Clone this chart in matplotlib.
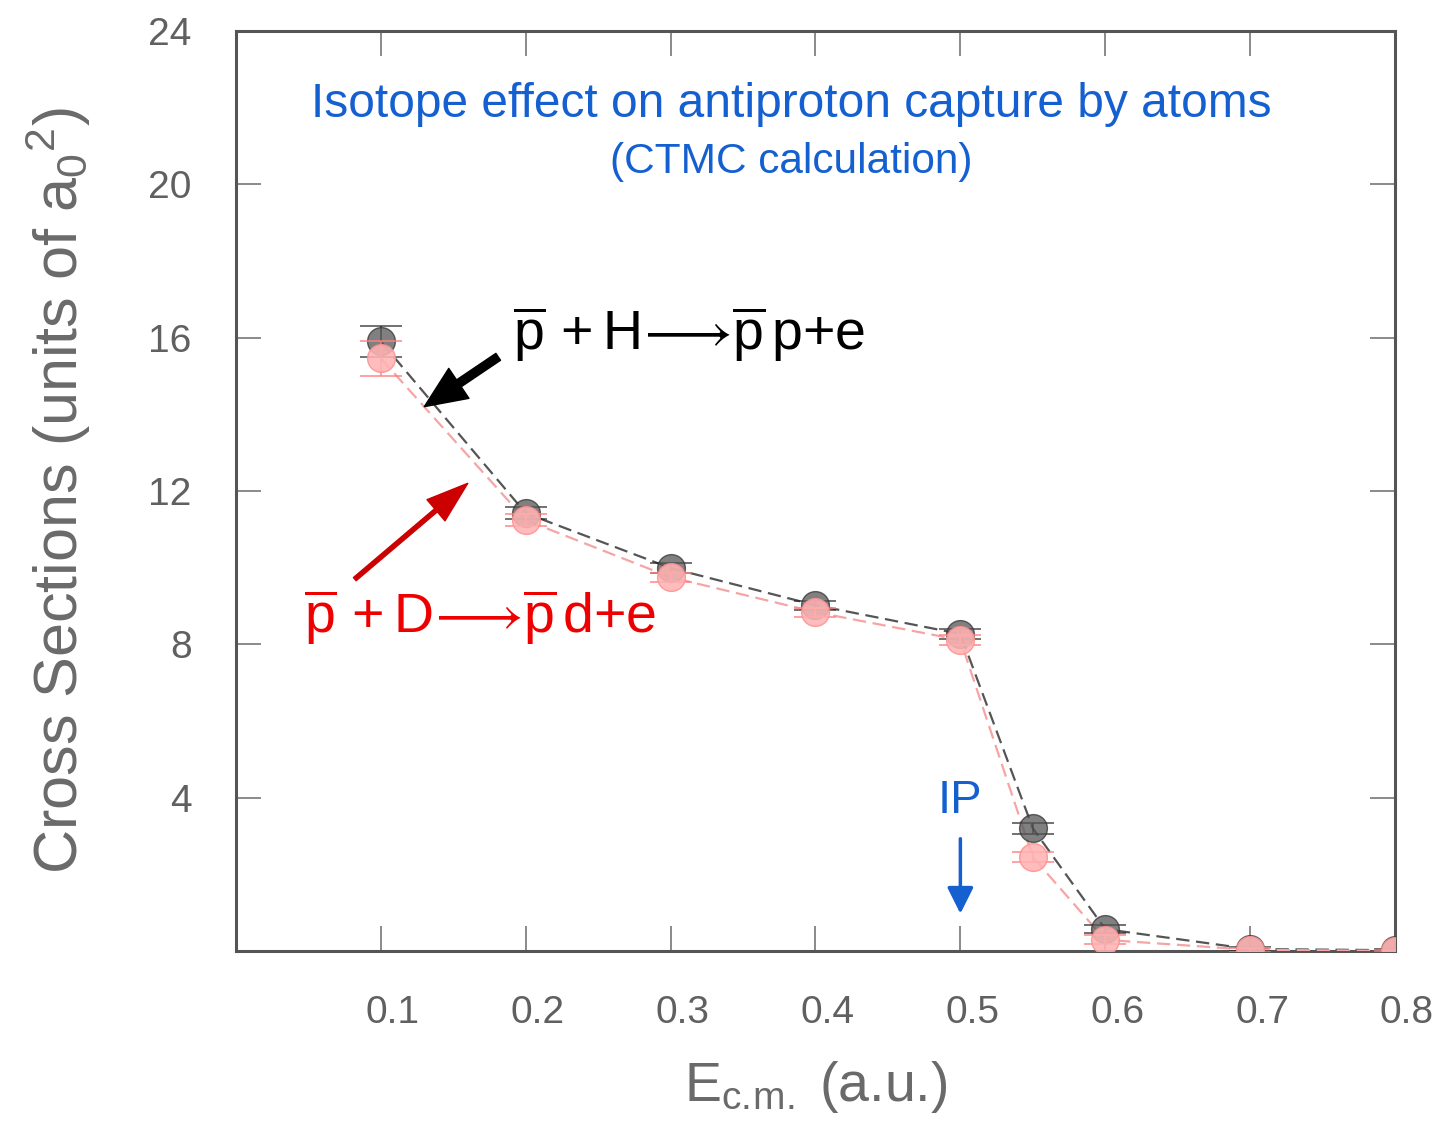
import matplotlib
matplotlib.use('Agg')
import matplotlib.pyplot as plt
import matplotlib.transforms as mtransforms

plt.rcParams['font.family'] = ['Liberation Sans', 'DejaVu Sans']
plt.rcParams['mathtext.fontset'] = 'custom'
plt.rcParams['mathtext.rm'] = 'Liberation Sans'
plt.rcParams['mathtext.it'] = 'Liberation Sans'

# data
energy = [0.1, 0.2, 0.3, 0.4, 0.5, 0.55, 0.6, 0.7, 0.8]
sigma_H = [15.9, 11.42, 9.99, 9.02, 8.27, 3.2, 0.57, 0.05, 0.02]
err_H = [0.4, 0.15, 0.12, 0.12, 0.12, 0.15, 0.1, 0.05, 0.02]
sigma_D = [15.46, 11.24, 9.75, 8.84, 8.11, 2.45, 0.29, 0.03, 0.0]
err_D = [0.45, 0.15, 0.12, 0.12, 0.12, 0.12, 0.12, 0.05, 0.02]
xticks = [0.1, 0.2, 0.3, 0.4, 0.5, 0.6, 0.7, 0.8]
yticks = [4, 8, 12, 16, 20, 24]

fig = plt.figure(figsize=(14.45, 11.36), dpi=100)
ax = fig.add_axes([0.1633, 0.1629, 0.8021, 0.8098])

ax.errorbar(energy, sigma_H, yerr=err_H, fmt='o', ms=20, mfc='#555555', mec='#333333',
            alpha=0.75, ecolor='#222222', elinewidth=1.2, capsize=15, capthick=1.2, zorder=4)
ax.plot(energy, sigma_H, ls=(0, (6, 3)), color='#555555', lw=1.6, zorder=3)
ax.errorbar(energy, sigma_D, yerr=err_D, fmt='o', ms=20, mfc='#ffb3b3', mec='#ff9090',
            alpha=0.88, ecolor='#ff8080', elinewidth=1.2, capsize=15, capthick=1.2, zorder=5)
ax.plot(energy, sigma_D, ls=(0, (6, 3)), color='#f5a5a5', lw=1.6, zorder=3)

ax.set_xlim(0, 0.8)
ax.set_ylim(0, 24)
ax.set_xticks(xticks)
ax.set_xticklabels(['0.1', '0.2', '0.3', '0.4', '0.5', '0.6', '0.7', '0.8'])
ax.set_yticks(yticks)
ax.tick_params(direction='in', length=18, width=1.2, color='#777777', top=True, right=True,
               labelsize=28, labelcolor='#606060', pad=32)
for lab in ax.get_xticklabels():
    lab.set_transform(lab.get_transform() + mtransforms.ScaledTranslation(0.12, 0, fig.dpi_scale_trans))
for s in ax.spines.values():
    s.set_color('#555555')
    s.set_linewidth(2.2)

ax.set_ylabel(r'Cross Sections (units of a$_0$$^2$)', fontsize=44, color='#6a6a6a', labelpad=40)
ax.set_xlabel(r'E$_{\rm c.\!m.}$ (a.u.)', fontsize=40, color='#6a6a6a', labelpad=20)

ax.text(0.479, 0.92, 'Isotope effect on antiproton capture by atoms', transform=ax.transAxes,
        ha='center', va='center', fontsize=34.5, color='#1560d0')
ax.text(0.479, 0.858, '(CTMC calculation)', transform=ax.transAxes,
        ha='center', va='center', fontsize=30.5, color='#1560d0')

ax.text(0.191, 16.1, r'$\overline{\mathrm{p}}\,+\mathrm{H}\!\longrightarrow\!\overline{\mathrm{p}}\,\mathrm{p{+}e}$',
        fontsize=40, color='black', ha='left', va='center')
ax.text(0.047, 8.7, r'$\overline{\mathrm{p}}\,+\mathrm{D}\!\longrightarrow\!\overline{\mathrm{p}}\,\mathrm{d{+}e}$',
        fontsize=40, color='#ee0000', ha='left', va='center')

ax.annotate('', xy=(0.13, 14.2), xytext=(0.181, 15.5),
            arrowprops=dict(facecolor='black', edgecolor='black', width=6, headwidth=26, headlength=30))
ax.annotate('', xy=(0.16, 12.2), xytext=(0.082, 9.7),
            arrowprops=dict(facecolor='#cc0000', edgecolor='#cc0000', width=3, headwidth=20, headlength=30))

ax.text(0.5, 3.9, 'IP', fontsize=34, color='#1560d0', ha='center', va='center')
ax.annotate('', xy=(0.5, 0.9), xytext=(0.5, 3.0),
            arrowprops=dict(arrowstyle='-|>', color='#1560d0', lw=2.5, mutation_scale=40))

fig.savefig('out.png', dpi=100)
